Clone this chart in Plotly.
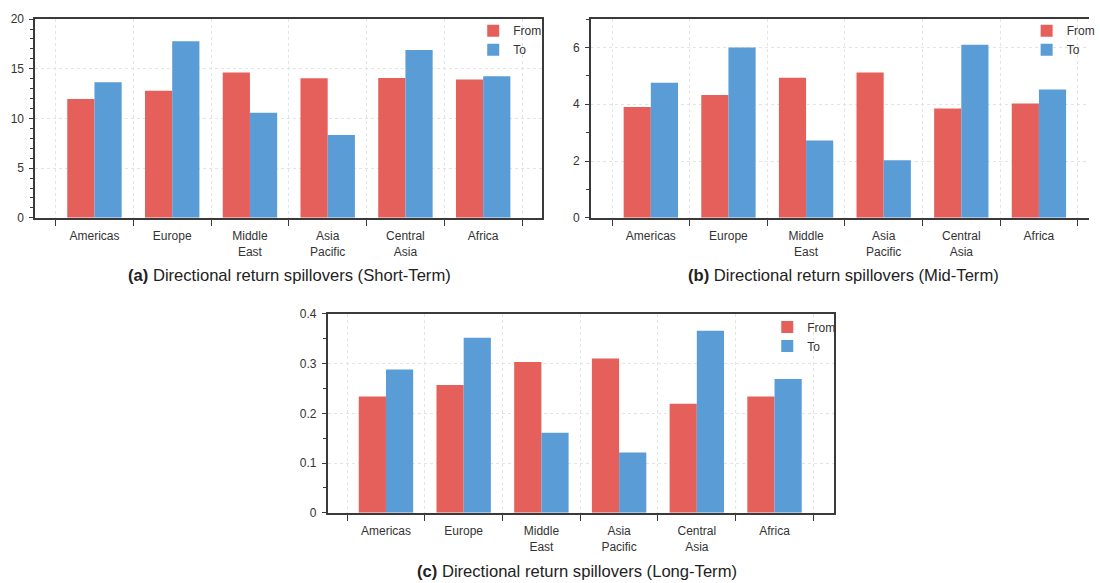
import plotly.graph_objects as go

W, H = 1100, 583

categories = ["Americas", "Europe", "Middle<br>East", "Asia<br>Pacific", "Central<br>Asia", "Africa"]

short_from = [11.95, 12.78, 14.62, 14.04, 14.07, 13.93]
short_to = [13.64, 17.78, 10.57, 8.33, 16.88, 14.25]

mid_from = [3.90, 4.33, 4.93, 5.12, 3.85, 4.03]
mid_to = [4.76, 6.00, 2.72, 2.03, 6.10, 4.52]

long_from = [0.234, 0.257, 0.303, 0.310, 0.219, 0.234]
long_to = [0.288, 0.352, 0.161, 0.121, 0.366, 0.269]

series_names = ["From", "To"]
titles = [
    "<b>(a)</b> Directional return spillovers (Short-Term)",
    "<b>(b)</b> Directional return spillovers (Mid-Term)",
    "<b>(c)</b> Directional return spillovers (Long-Term)",
]

RED = "#E5605B"
BLUE = "#5A9CD5"
FONT = "Liberation Sans, Arial, sans-serif"
AXIS = "#3a3a3a"
TXT = "#333333"
GRID = "#e4e4e4"


def px_x(p):
    return p / W


def px_y(p):
    return 1 - p / H


fig = go.Figure()

panels = [
    dict(fr=short_from, to=short_to, xa="x", ya="y", leg="legend"),
    dict(fr=mid_from, to=mid_to, xa="x2", ya="y2", leg="legend2"),
    dict(fr=long_from, to=long_to, xa="x3", ya="y3", leg="legend3"),
]

for p in panels:
    for name, vals, col in [(series_names[0], p["fr"], RED), (series_names[1], p["to"], BLUE)]:
        fig.add_trace(go.Bar(
            x=categories, y=vals, name=name,
            marker=dict(color=col, line=dict(width=0)),
            xaxis=p["xa"], yaxis=p["ya"], legend=p["leg"],
            hoverinfo="x+y+name",
        ))


def xaxis(domain, rng, anchor, mirror=True):
    return dict(
        domain=domain, range=rng, type="category", anchor=anchor,
        showline=True, linecolor=AXIS, linewidth=1.5, mirror=mirror,
        ticks="outside", ticklen=6, tickwidth=1.2, tickcolor=AXIS,
        tickson="boundaries", ticklabelstandoff=6,
        showgrid=True, gridcolor=GRID, griddash="dot", gridwidth=1,
        tickfont=dict(family=FONT, size=12, color=TXT),
        zeroline=False, fixedrange=True,
    )


def yaxis(domain, rng, dtick, minor_dtick, anchor, mirror=True):
    return dict(
        domain=domain, range=rng, dtick=dtick, tick0=0, anchor=anchor,
        showline=True, linecolor=AXIS, linewidth=1.5, mirror=mirror,
        ticks="outside", ticklen=4, tickwidth=1.2, tickcolor=AXIS,
        minor=dict(dtick=minor_dtick, ticks="outside", ticklen=3, tickcolor=AXIS, tickwidth=1, showgrid=False),
        showgrid=True, gridcolor=GRID, griddash="dot", gridwidth=1,
        tickfont=dict(family=FONT, size=12, color=TXT),
        zeroline=False, fixedrange=True, ticklabelstandoff=3,
    )


def legend_at(xpx, ypx):
    return dict(
        x=px_x(xpx), y=px_y(ypx), xanchor="left", yanchor="top",
        bgcolor="rgba(0,0,0,0)", borderwidth=0,
        font=dict(family=FONT, size=12, color=TXT),
        tracegroupgap=0, itemclick=False, itemdoubleclick=False,
    )


fig.update_layout(
    width=W, height=H,
    margin=dict(l=0, r=0, t=0, b=0),
    paper_bgcolor="white", plot_bgcolor="white",
    barmode="group", bargap=0.30, bargroupgap=0,
    font=dict(family=FONT, size=12, color=TXT),
    xaxis=xaxis([px_x(35.5), px_x(547.5)], [-0.763, 5.757], "y"),
    yaxis=yaxis([px_y(216), px_y(12.4)], [0, 20], 5, 1, "x"),
    xaxis2=xaxis([px_x(596.7), 1.0], [-0.774, 5.645], "y2"),
    yaxis2=yaxis([px_y(216), px_y(12.4)], [0, 7], 2, 1, "x2", mirror=False),
    xaxis3=xaxis([px_x(331), px_x(842)], [-0.75, 5.76], "y3"),
    yaxis3=yaxis([px_y(518.2), px_y(314.4)], [0, 0.4], 0.1, 0.05, "x3"),
    legend=legend_at(478, 9.5),
    legend2=legend_at(1037, 9.5),
    legend3=legend_at(775, 313),
    showlegend=True,
)

for t, (xc, yc) in zip(titles, [(292, 275), (852.5, 275), (583, 578.5)]):
    fig.add_annotation(
        text=t, x=px_x(xc), y=px_y(yc), xref="paper", yref="paper",
        xanchor="center", yanchor="middle", showarrow=False,
        font=dict(family=FONT, size=16.6, color="#222222"),
    )

fig.write_html("out.html")
